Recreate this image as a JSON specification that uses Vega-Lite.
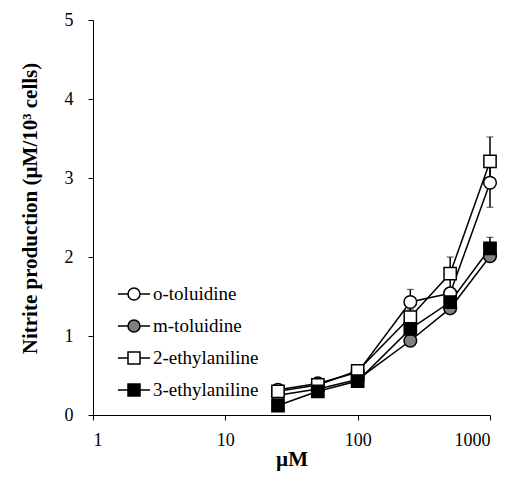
{
  "$schema": "https://vega.github.io/schema/vega-lite/v6.json",
  "width": 397,
  "height": 395,
  "autosize": {"type": "none"},
  "padding": {"left": 93, "top": 20, "right": 19, "bottom": 64},
  "background": "white",
  "config": {
    "view": {"stroke": null},
    "font": "Liberation Serif",
    "axis": {"grid": false, "domainColor": "#000", "tickColor": "#000", "labelColor": "#000", "titleColor": "#000", "labelFont": "Liberation Serif", "titleFont": "Liberation Serif", "labelFontSize": 18, "titleFontSize": 21, "titleFontWeight": "bold", "tickSize": 5, "domainWidth": 1, "tickWidth": 1}
  },
  "data": {
    "values": [
      {"series": "o-toluidine", "x": 25, "v": 0.32, "e": 0},
      {"series": "o-toluidine", "x": 50, "v": 0.40, "e": 0},
      {"series": "o-toluidine", "x": 100, "v": 0.54, "e": 0},
      {"series": "o-toluidine", "x": 250, "v": 1.43, "e": 0.16},
      {"series": "o-toluidine", "x": 500, "v": 1.54, "e": 0},
      {"series": "o-toluidine", "x": 1000, "v": 2.94, "e": 0.31},
      {"series": "m-toluidine", "x": 25, "v": 0.25, "e": 0},
      {"series": "m-toluidine", "x": 50, "v": 0.33, "e": 0},
      {"series": "m-toluidine", "x": 100, "v": 0.45, "e": 0},
      {"series": "m-toluidine", "x": 250, "v": 0.94, "e": 0},
      {"series": "m-toluidine", "x": 500, "v": 1.35, "e": 0},
      {"series": "m-toluidine", "x": 1000, "v": 2.01, "e": 0},
      {"series": "2-ethylaniline", "x": 25, "v": 0.30, "e": 0},
      {"series": "2-ethylaniline", "x": 50, "v": 0.38, "e": 0},
      {"series": "2-ethylaniline", "x": 100, "v": 0.56, "e": 0},
      {"series": "2-ethylaniline", "x": 250, "v": 1.24, "e": 0.1},
      {"series": "2-ethylaniline", "x": 500, "v": 1.79, "e": 0.21},
      {"series": "2-ethylaniline", "x": 1000, "v": 3.21, "e": 0.31},
      {"series": "3-ethylaniline", "x": 25, "v": 0.12, "e": 0},
      {"series": "3-ethylaniline", "x": 50, "v": 0.30, "e": 0},
      {"series": "3-ethylaniline", "x": 100, "v": 0.43, "e": 0},
      {"series": "3-ethylaniline", "x": 250, "v": 1.09, "e": 0},
      {"series": "3-ethylaniline", "x": 500, "v": 1.43, "e": 0},
      {"series": "3-ethylaniline", "x": 1000, "v": 2.11, "e": 0.14}
    ]
  },
  "encoding": {
    "x": {"field": "x", "type": "quantitative", "scale": {"type": "log", "domain": [1, 1000], "nice": false}, "axis": {"values": [1, 10, 100, 1000], "format": "d", "title": "µM", "labelPadding": 11, "titleY": 50, "titleBaseline": "alphabetic"}},
    "y": {"field": "v", "type": "quantitative", "scale": {"domain": [0, 5], "nice": false}, "axis": {"values": [0, 1, 2, 3, 4, 5], "title": "Nitrite production (µM/10³ cells)", "labelPadding": 15, "titleX": -63, "titleY": 188, "titleBaseline": "middle"}}
  },
  "layer": [
    {
      "transform": [{"filter": "datum.e > 0"}],
      "mark": {"type": "errorbar", "ticks": {"size": 7, "color": "black"}, "rule": {"color": "black", "strokeWidth": 1.5}},
      "encoding": {
        "y": {"field": "v", "type": "quantitative"},
        "yError": {"field": "e"},
        "detail": {"field": "series"}
      }
    },
    {
      "mark": {"type": "line", "color": "black", "strokeWidth": 1.5},
      "encoding": {"detail": {"field": "series"}}
    },
    {
      "transform": [{"filter": "indexof(['o-toluidine','m-toluidine'], datum.series) >= 0"}],
      "mark": {"type": "point", "shape": "circle", "filled": true, "stroke": "black", "strokeWidth": 1.5, "size": 160, "opacity": 1},
      "encoding": {
        "fill": {"field": "series", "type": "nominal", "scale": {"domain": ["o-toluidine", "m-toluidine", "2-ethylaniline", "3-ethylaniline"], "range": ["white", "#808080", "white", "black"]},
          "legend": {"title": null, "orient": "none", "legendX": 25, "legendY": 258, "padding": 0, "symbolSize": 900, "symbolStrokeColor": "black", "symbolStrokeWidth": 1.5, "symbolOpacity": 1, "labelFont": "Liberation Serif", "labelFontSize": 19, "labelColor": "black", "labelOffset": 3, "rowPadding": 6,
            "encode": {"symbols": {"update": {"shape": {"signal": "indexof(['2-ethylaniline','3-ethylaniline'], datum.value) >= 0 ? 'M-0.4,-0.4H0.4V0.4H-0.4Z M-1.07,0H-0.4 M0.4,0H1.07' : 'M0.4,0A0.4,0.4,0,1,1,-0.4,0A0.4,0.4,0,1,1,0.4,0Z M-1.07,0H-0.4 M0.4,0H1.07'"}}}}}}
      }
    },
    {
      "transform": [{"filter": "indexof(['2-ethylaniline','3-ethylaniline'], datum.series) >= 0"}],
      "mark": {"type": "point", "shape": "square", "filled": true, "stroke": "black", "strokeWidth": 1.5, "size": 150, "opacity": 1},
      "encoding": {
        "fill": {"field": "series", "type": "nominal"}
      }
    }
  ]
}
